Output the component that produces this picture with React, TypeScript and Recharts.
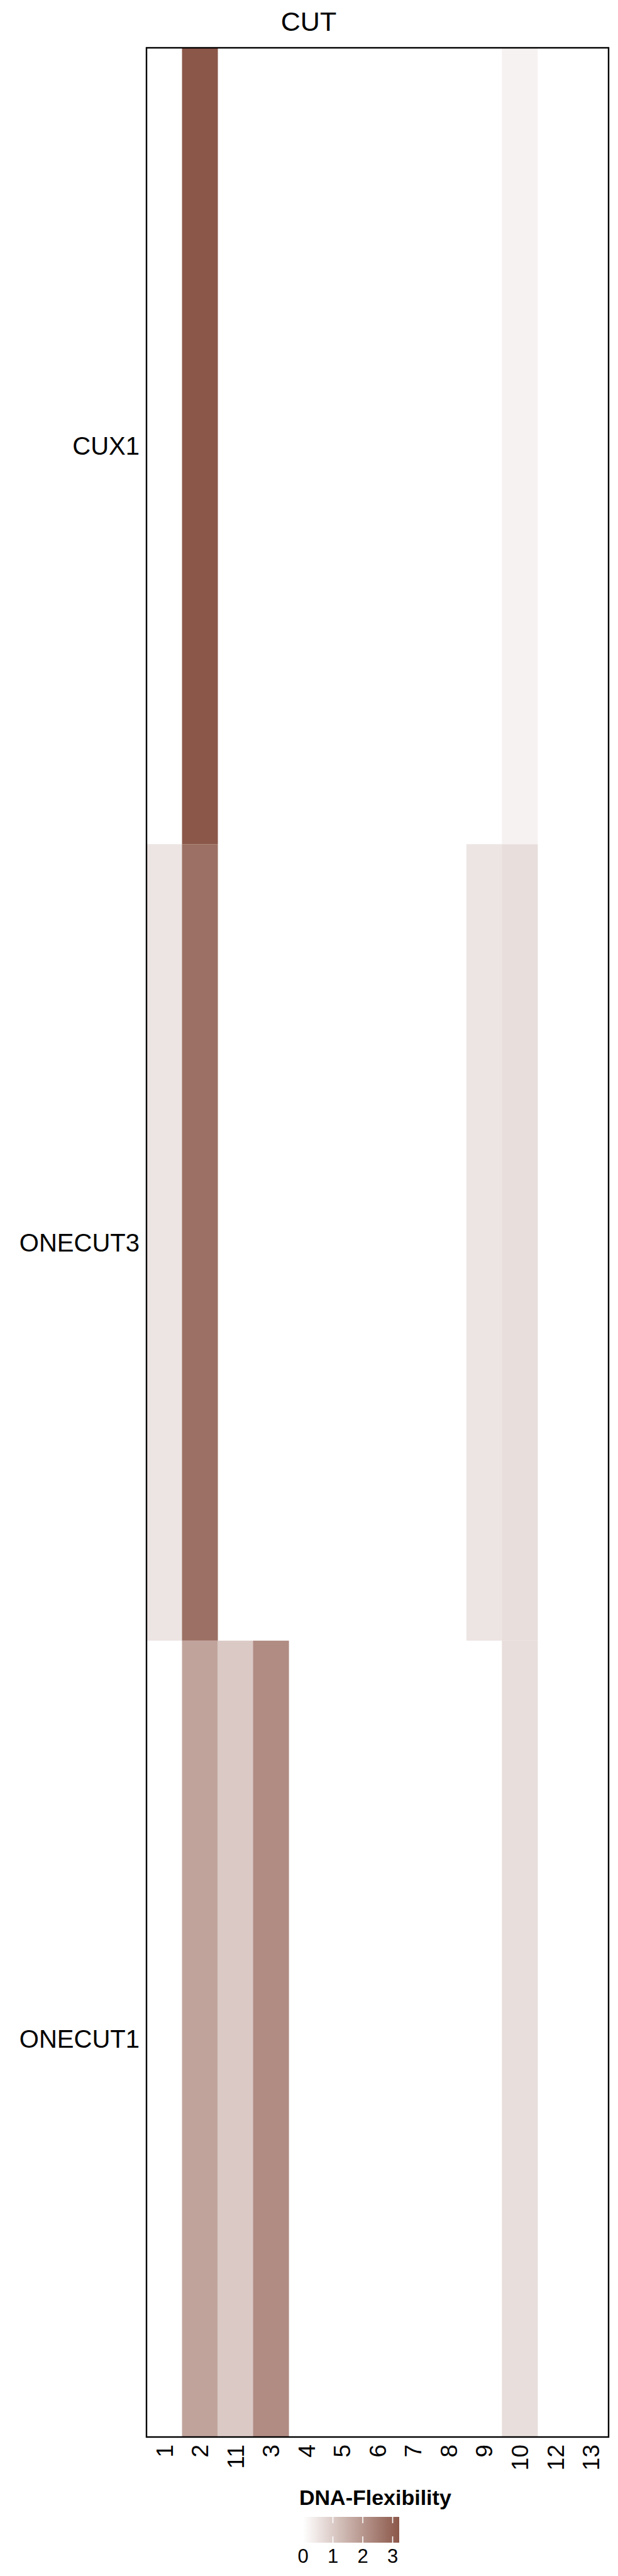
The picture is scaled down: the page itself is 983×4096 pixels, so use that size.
import { BarChart, Bar, Cell, XAxis, YAxis } from 'recharts';

// heatmap values (DNA-Flexibility), null = no value
const columns = ['1', '2', '11', '3', '4', '5', '6', '7', '8', '9', '10', '12', '13'];
const rows = ['CUX1', 'ONECUT3', 'ONECUT1'];
const cux1 = [null, 3.22, null, null, null, null, null, null, null, null, 0.25, null, null];
const onecut3 = [0.5, 2.75, null, null, null, null, null, null, null, 0.5, 0.64, null, null];
const onecut1 = [null, 1.75, 1.03, 2.2, null, null, null, null, null, null, 0.64, null, null];
const legendTicks = [0, 1, 2, 3];
const legendMax = 3.22;

const values: Record<string, (number | null)[]> = { CUX1: cux1, ONECUT3: onecut3, ONECUT1: onecut1 };

const FONT = '"Liberation Sans", Arial, sans-serif';
const HIGH = [139, 87, 73];

function colorFor(v: number | null) {
  if (v == null) return 'transparent';
  const t = Math.max(0, Math.min(1, v / legendMax));
  const c = HIGH.map((h) => Math.round(255 + t * (h - 255)));
  return `rgb(${c[0]},${c[1]},${c[2]})`;
}

// each row is one unit tall in the stack
const table = columns.map((col) => {
  const row: Record<string, string | number> = { col };
  rows.forEach((r) => {
    row[r] = 1;
  });
  return row;
});

// bottom-up stacking order
const stackOrder = [...rows].reverse();
const rowTicks = stackOrder.map((_, i) => i + 0.5);

// plot frame
const PLOT = { left: 233, top: 76, right: 968, bottom: 3875 };

const XTick = (props: any) => {
  const { x, y, payload } = props;
  return (
    <text
      transform={`translate(${x},${y}) rotate(-90)`}
      textAnchor="end"
      dy="0.36em"
      fontSize={37}
      fontFamily={FONT}
      fill="#000"
    >
      {payload.value}
    </text>
  );
};

export default function App() {
  const lx0 = 482;
  const lx1 = 635;
  const lx = (v: number) => lx0 + (v / legendMax) * (lx1 - lx0);
  return (
    <div style={{ position: 'absolute', left: 0, top: 0, width: 983, height: 4096, background: '#fff' }}>
      <BarChart
        width={983}
        height={PLOT.bottom + 60}
        data={table}
        margin={{ top: PLOT.top, right: 983 - PLOT.right, left: 0, bottom: 0 }}
        barCategoryGap={0}
        barGap={0}
      >
        <XAxis
          dataKey="col"
          type="category"
          interval={0}
          height={60}
          tickLine={false}
          tickSize={0}
          tickMargin={12}
          axisLine={false}
          tick={<XTick />}
        />
        <YAxis
          type="number"
          domain={[0, rows.length]}
          ticks={rowTicks}
          tickFormatter={(v: number) => stackOrder[Math.floor(v)]}
          width={PLOT.left}
          tickLine={false}
          tickSize={0}
          tickMargin={11}
          axisLine={false}
          tick={{ fill: '#000', fontSize: 40, fontFamily: FONT }}
        />
        {stackOrder.map((r) => (
          <Bar key={r} dataKey={r} stackId="heat" isAnimationActive={false}>
            {columns.map((c, i) => (
              <Cell key={c} fill={colorFor(values[r][i])} />
            ))}
          </Bar>
        ))}
      </BarChart>
      <svg
        width={983}
        height={4096}
        style={{ position: 'absolute', left: 0, top: 0, pointerEvents: 'none' }}
      >
        <defs>
          <linearGradient id="flex" x1="0" y1="0" x2="1" y2="0">
            <stop offset="0%" stopColor="#ffffff" />
            <stop offset="100%" stopColor={colorFor(legendMax)} />
          </linearGradient>
        </defs>
        <rect
          x={PLOT.left}
          y={PLOT.top}
          width={PLOT.right - PLOT.left}
          height={PLOT.bottom - PLOT.top}
          fill="none"
          stroke="#000"
          strokeWidth={2.4}
        />
        <text x={491} y={49} textAnchor="middle" fontSize={43} fontFamily={FONT} fill="#000">
          CUT
        </text>
        <text x={476} y={3983} fontSize={34} fontWeight="bold" fontFamily={FONT} fill="#000">
          DNA-Flexibility
        </text>
        <rect x={lx0} y={4002} width={lx1 - lx0} height={41} fill="url(#flex)" />
        {legendTicks.map((t) => (
          <g key={t}>
            <line x1={lx(t)} x2={lx(t)} y1={4002} y2={4012} stroke="#fff" strokeWidth={1.6} />
            <line x1={lx(t)} x2={lx(t)} y1={4033} y2={4043} stroke="#fff" strokeWidth={1.6} />
            <text x={lx(t)} y={4075} textAnchor="middle" fontSize={31} fontFamily={FONT} fill="#000">
              {t}
            </text>
          </g>
        ))}
      </svg>
    </div>
  );
}
